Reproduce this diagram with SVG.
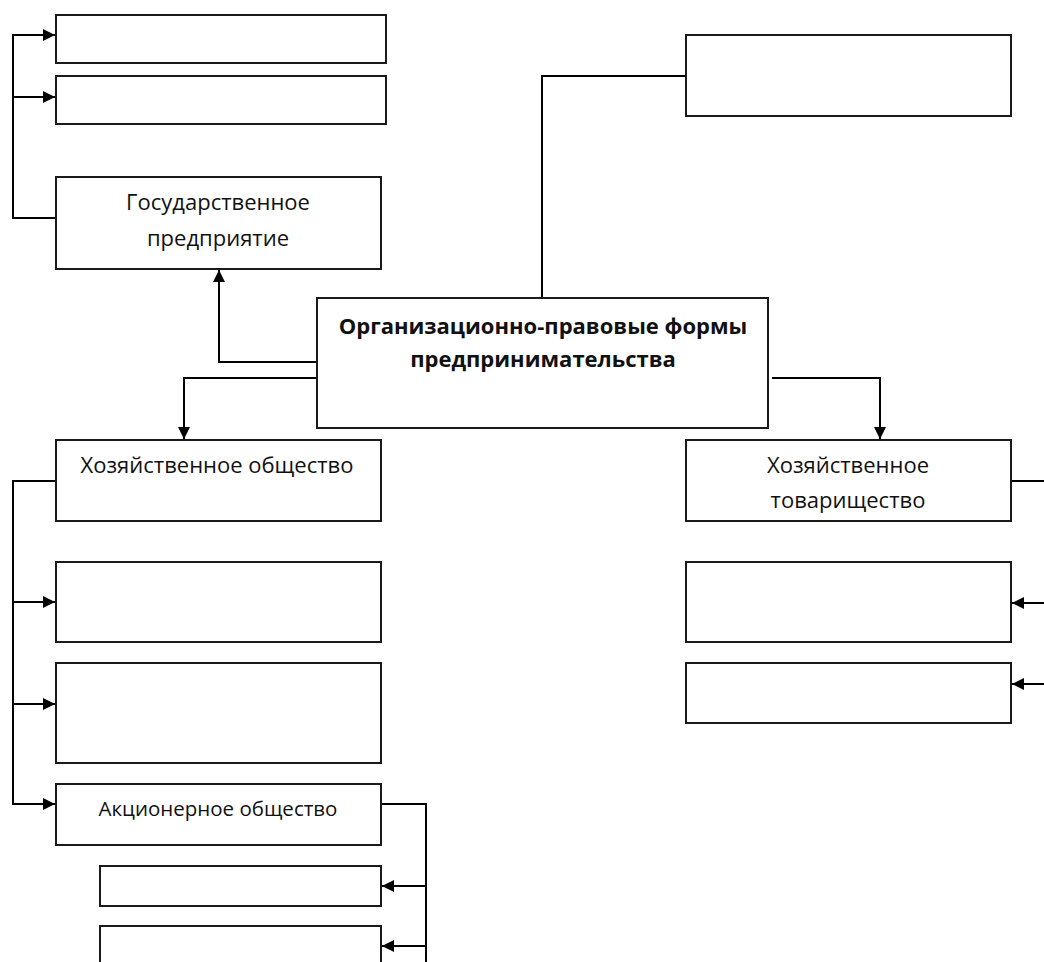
<svg xmlns="http://www.w3.org/2000/svg" width="1044" height="962" viewBox="0 0 1044 962">
<style>
.box{fill:#fff;stroke:#1a1a1a;stroke-width:2}
.ln{fill:none;stroke:#000;stroke-width:2}
.t{font-family:"Open Sans","Liberation Sans",sans-serif;font-size:22px;fill:#111;text-anchor:middle}
.tb{font-family:"Open Sans","Liberation Sans",sans-serif;font-size:22px;font-weight:bold;fill:#111;text-anchor:middle}
.ts{font-family:"Open Sans","Liberation Sans",sans-serif;font-size:20.5px;fill:#111;text-anchor:middle}
</style>
<defs>
<marker id="arr" markerWidth="12" markerHeight="12" refX="12" refY="6" orient="auto" markerUnits="userSpaceOnUse">
<path d="M0,0 L12,6 L0,12 Z" fill="#000"/>
</marker>
</defs>
<rect width="1044" height="962" fill="#fff"/>
<g id="connectors">
<path class="ln" d="M56,218 H13 V35 H55" marker-end="url(#arr)"/>
<path class="ln" d="M13,97 H55" marker-end="url(#arr)"/>
<path class="ln" d="M542,298 V76 H686"/>
<path class="ln" d="M317,362 H219 V270" marker-end="url(#arr)"/>
<path class="ln" d="M317,378 H184 V439" marker-end="url(#arr)"/>
<path class="ln" d="M772,378 H880 V439" marker-end="url(#arr)"/>
<path class="ln" d="M56,481 H13 V804 H55" marker-end="url(#arr)"/>
<path class="ln" d="M13,602 H55" marker-end="url(#arr)"/>
<path class="ln" d="M13,704 H55" marker-end="url(#arr)"/>
<path class="ln" d="M381,804 H426 V962"/>
<path class="ln" d="M426,886 H382" marker-end="url(#arr)"/>
<path class="ln" d="M426,946 H382" marker-end="url(#arr)"/>
<path class="ln" d="M1011,481 H1044"/>
<path class="ln" d="M1044,603 H1012" marker-end="url(#arr)"/>
<path class="ln" d="M1044,684 H1012" marker-end="url(#arr)"/>
</g>
<g id="n1"><rect class="box" x="56" y="15" width="330" height="48"/></g>
<g id="n2"><rect class="box" x="56" y="76" width="330" height="48"/></g>
<g id="gov"><rect class="box" x="56" y="177" width="325" height="92"/>
<text class="t" x="218" y="210">Государственное</text>
<text class="t" x="218" y="246">предприятие</text></g>
<g id="topright"><rect class="box" x="686" y="35" width="325" height="81"/></g>
<g id="central"><rect class="box" x="317" y="298" width="451" height="130"/>
<text class="tb" x="543" y="334">Организационно-правовые формы</text>
<text class="tb" x="543" y="367">предпринимательства</text></g>
<g id="hozob"><rect class="box" x="56" y="440" width="325" height="81"/>
<text class="t" x="217" y="473">Хозяйственное общество</text></g>
<g id="hoztov"><rect class="box" x="686" y="440" width="325" height="81"/>
<text class="t" x="848" y="473">Хозяйственное</text>
<text class="t" x="848" y="508">товарищество</text></g>
<g id="ob1"><rect class="box" x="56" y="562" width="325" height="80"/></g>
<g id="ob2"><rect class="box" x="56" y="663" width="325" height="100"/></g>
<g id="ao"><rect class="box" x="56" y="784" width="325" height="61"/>
<text class="ts" x="218" y="816">Акционерное общество</text></g>
<g id="ao1"><rect class="box" x="100" y="866" width="281" height="40"/></g>
<g id="ao2"><rect class="box" x="100" y="926" width="281" height="50"/></g>
<g id="tov1"><rect class="box" x="686" y="562" width="325" height="80"/></g>
<g id="tov2"><rect class="box" x="686" y="663" width="325" height="60"/></g>
</svg>
